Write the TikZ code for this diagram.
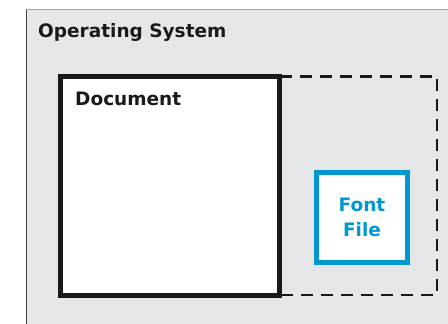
\documentclass[tikz,border=0pt]{standalone}
\usepackage{fontspec}
\setmainfont{DejaVu Sans}
\usetikzlibrary{positioning}
\definecolor{osgray}{HTML}{E6E7E9}
\definecolor{fontblue}{HTML}{0098CF}

\begin{document}
\begin{tikzpicture}[x=1pt,y=-1pt,
        label text/.style={inner sep=0pt,anchor=base west,font=\fontsize{18.5}{25}\selectfont\bfseries,text=black!90},
        doc box/.style={draw=black!90,fill=white,line width=5pt,outer sep=0pt,minimum width=219pt,minimum height=218.5pt},
        file box/.style={draw=fontblue,fill=white,line width=5pt,minimum width=91pt,minimum height=90pt,
            align=center,font=\fontsize{18.5}{25}\selectfont\bfseries,text=fontblue}]
    \useasboundingbox (0,0) rectangle (448,324);

    % operating system area
    \fill[osgray] (26.5,9.5) rectangle (448,324);
    \draw[black!35,line width=1pt] (26.5,324) |- (448,9.5);
    \draw[black!75,line width=1pt] (26.5,324) -- (26.5,9.5);
    \node[label text] (os) at (38,37.3) {Operating System};

    \node[doc box] (doc) at (170,185.75) {};
    \node[label text] (doctitle) at (75,105.7) {Document};

    % where the font is not embedded
    \coordinate (ne) at (437,76.5);
    \coordinate (se) at (437,295);
    \draw[black!90,line width=2.5pt,dash pattern=on 12pt off 8pt]
        (doc.north east) -- (ne) -- (se) -- (doc.south east);

    \node[file box] (font) at (362,217.5) {Font\\File};
\end{tikzpicture}
\end{document}
